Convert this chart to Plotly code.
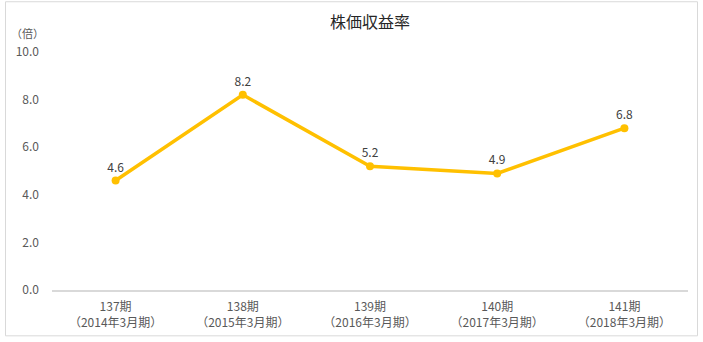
import plotly.graph_objects as go

periods = ["137期", "138期", "139期", "140期", "141期"]
fiscal = ["（2014年3月期）", "（2015年3月期）", "（2016年3月期）", "（2017年3月期）", "（2018年3月期）"]
per_values = [4.6, 8.2, 5.2, 4.9, 6.8]
y_ticks = [0, 2, 4, 6, 8, 10]

categories = [f"{p}<br>{f}" for p, f in zip(periods, fiscal)]
FONT = "Noto Sans CJK JP, Noto Sans, sans-serif"

fig = go.Figure()
fig.add_trace(go.Scatter(
    x=categories, y=per_values,
    mode="lines+markers+text",
    line=dict(color="#FFC000", width=3.5),
    marker=dict(color="#FFC000", size=8),
    text=[f"{v:.1f}" for v in per_values],
    textposition="top center",
    textfont=dict(size=12, color="#404040", family=FONT),
    cliponaxis=False,
    showlegend=False,
))

L, R, T, B = 52, 15, 51.5, 49
W, H = 703, 342
pw = W - L - R
ph = H - T - B

def px(x):
    return (x - L) / pw

def py(y):
    return (H - B - y) / ph

fig.update_layout(
    width=W, height=H,
    margin=dict(l=L, r=R, t=T, b=B),
    paper_bgcolor="white", plot_bgcolor="white",
    font=dict(family=FONT, size=12, color="#595959"),
    title=dict(text="株価収益率", x=0.5, xref="paper", y=1 - 22 / H, yanchor="middle",
               font=dict(size=16, color="#262626", family=FONT)),
    xaxis=dict(showgrid=False, showline=True, linecolor="#D9D9D9", linewidth=1.5,
               range=[-0.5, len(categories) - 0.5], ticklabelstandoff=5,
               ticks="", tickfont=dict(size=12, color="#595959"), fixedrange=True),
    yaxis=dict(range=[0, 10], tickvals=y_ticks, ticktext=[f"{v:.1f}" for v in y_ticks],
               showgrid=False, showline=False, zeroline=False, ticks="",
               ticklabelstandoff=12, tickfont=dict(size=12, color="#595959")),
    shapes=[dict(type="rect", xref="paper", yref="paper",
                 x0=px(5.5), x1=px(697.5), y0=py(339.5), y1=py(0.5),
                 line=dict(color="#D9D9D9", width=1), fillcolor="rgba(0,0,0,0)", layer="below")],
    annotations=[dict(text="（倍）", xref="paper", yref="paper", x=px(27), y=py(32),
                      xanchor="center", yanchor="middle", showarrow=False,
                      font=dict(size=11, color="#595959", family=FONT))],
)

fig.write_html("out.html")
